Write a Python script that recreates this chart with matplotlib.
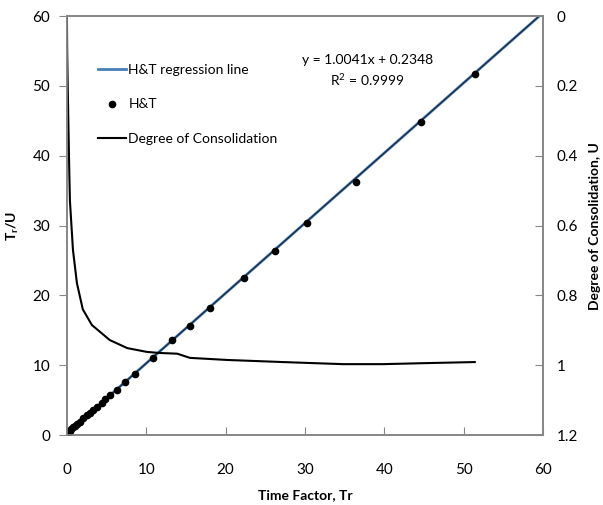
import numpy as np
import matplotlib
matplotlib.use("Agg")
import matplotlib.pyplot as plt

plt.rcParams['font.family'] = ['Lato', 'DejaVu Sans']
plt.rcParams['mathtext.fontset'] = 'custom'
plt.rcParams['mathtext.rm'] = 'Lato'
plt.rcParams['mathtext.bf'] = 'Lato:bold'

# H&T points: time factor Tr and Tr/U
ht_tr = [0.05, 0.13, 0.25, 0.38, 0.55, 0.76, 1.0, 1.26, 1.6, 2.0, 2.5, 2.9, 3.3, 3.8,
         4.4, 4.8, 5.4, 6.3, 7.3, 8.6, 10.8, 13.3, 15.5, 18.0, 22.3, 26.2, 30.2,
         36.4, 44.6, 51.4]
ht_tr_u = [0.2, 0.29, 0.45, 0.57, 0.8, 1.15, 1.35, 1.6, 1.9, 2.4, 2.9, 3.2, 3.6, 4.0,
           4.6, 5.2, 5.7, 6.4, 7.6, 8.8, 11.0, 13.6, 15.6, 18.2, 22.5, 26.4, 30.3,
           36.3, 44.8, 51.7]

# regression from the trendline label
slope = 1.0041
intercept = 0.2348
reg_x = [0, 60]

# degree of consolidation curve
dc_tr = [0.0, 0.03, 0.1, 0.2, 0.3, 0.38, 0.76, 1.26, 2.0, 3.15, 5.4, 7.6, 10.1,
         11.7, 13.9, 15.5, 20.2, 27.2, 34.8, 39.8, 45.3, 51.4]
dc_u = [0.0, 0.1, 0.2, 0.33, 0.45, 0.53, 0.67, 0.765, 0.84, 0.885, 0.928, 0.951,
        0.962, 0.965, 0.967, 0.979, 0.985, 0.991, 0.997, 0.997, 0.994, 0.991]

fig = plt.figure(figsize=(6.03, 5.05), dpi=100)
ax = fig.add_axes([0.111, 0.1386, 0.7895, 0.8294])
ax2 = ax.twinx()

reg_y = [slope * x + intercept for x in reg_x]
l1, = ax.plot(reg_x, reg_y, color='#4a7ebb', lw=2.0, label='H&T regression line', zorder=3)
ax.plot(reg_x, reg_y, color='#1a2a3a', lw=0.9, zorder=4)
l2, = ax.plot(ht_tr, ht_tr_u, 'o', color='black', ms=4.5, ls='none', label='H&T', zorder=5)
l3, = ax2.plot(dc_tr, dc_u, color='black', lw=1.5, label='Degree of Consolidation')

ax.set_xlim(0, 60)
ax.set_ylim(0, 60)
ax.set_xticks(range(0, 61, 10))
ax.set_yticks(range(0, 61, 10))
ax2.set_ylim(1.2, 0)
u_ticks = [0, 0.2, 0.4, 0.6, 0.8, 1.0, 1.2]
u_labels = ['0', '0.2', '0.4', '0.6', '0.8', '1', '1.2']
ax2.set_yticks(u_ticks)
ax2.set_yticklabels(u_labels)

spine_col = '#868686'
for a in (ax, ax2):
    for s in a.spines.values():
        s.set_color(spine_col)
        s.set_linewidth(1.2)

ax.tick_params(axis='x', direction='in', length=6, pad=20, labelsize=11, color=spine_col)
ax.tick_params(axis='y', direction='out', length=6, pad=6, labelsize=11, color=spine_col)
ax2.tick_params(axis='y', direction='in', length=6, pad=10, labelsize=11, color=spine_col)

ax.set_xlabel('Time Factor, Tr', fontsize=10, fontweight='bold', labelpad=9)
ax.set_ylabel(r'$\mathbf{T_r/U}$', fontsize=10, labelpad=8)
ax2.set_ylabel('Degree of Consolidation, U', fontsize=10, fontweight='bold', labelpad=8)

ax.text(37.9, 53.7, 'y = 1.0041x + 0.2348', ha='center', va='center', fontsize=10)
ax.text(37.8, 50.9, r'R$^2$ = 0.9999', ha='center', va='center', fontsize=10)

leg = ax.legend(handles=[l1, l2, l3], loc='upper left', bbox_to_anchor=(0.065, 0.886),
                frameon=False, fontsize=10, handlelength=2.0, handletextpad=0.2,
                labelspacing=1.62, borderpad=0, borderaxespad=0)
leg.set_zorder(10)

fig.savefig('out.png', dpi=100)
